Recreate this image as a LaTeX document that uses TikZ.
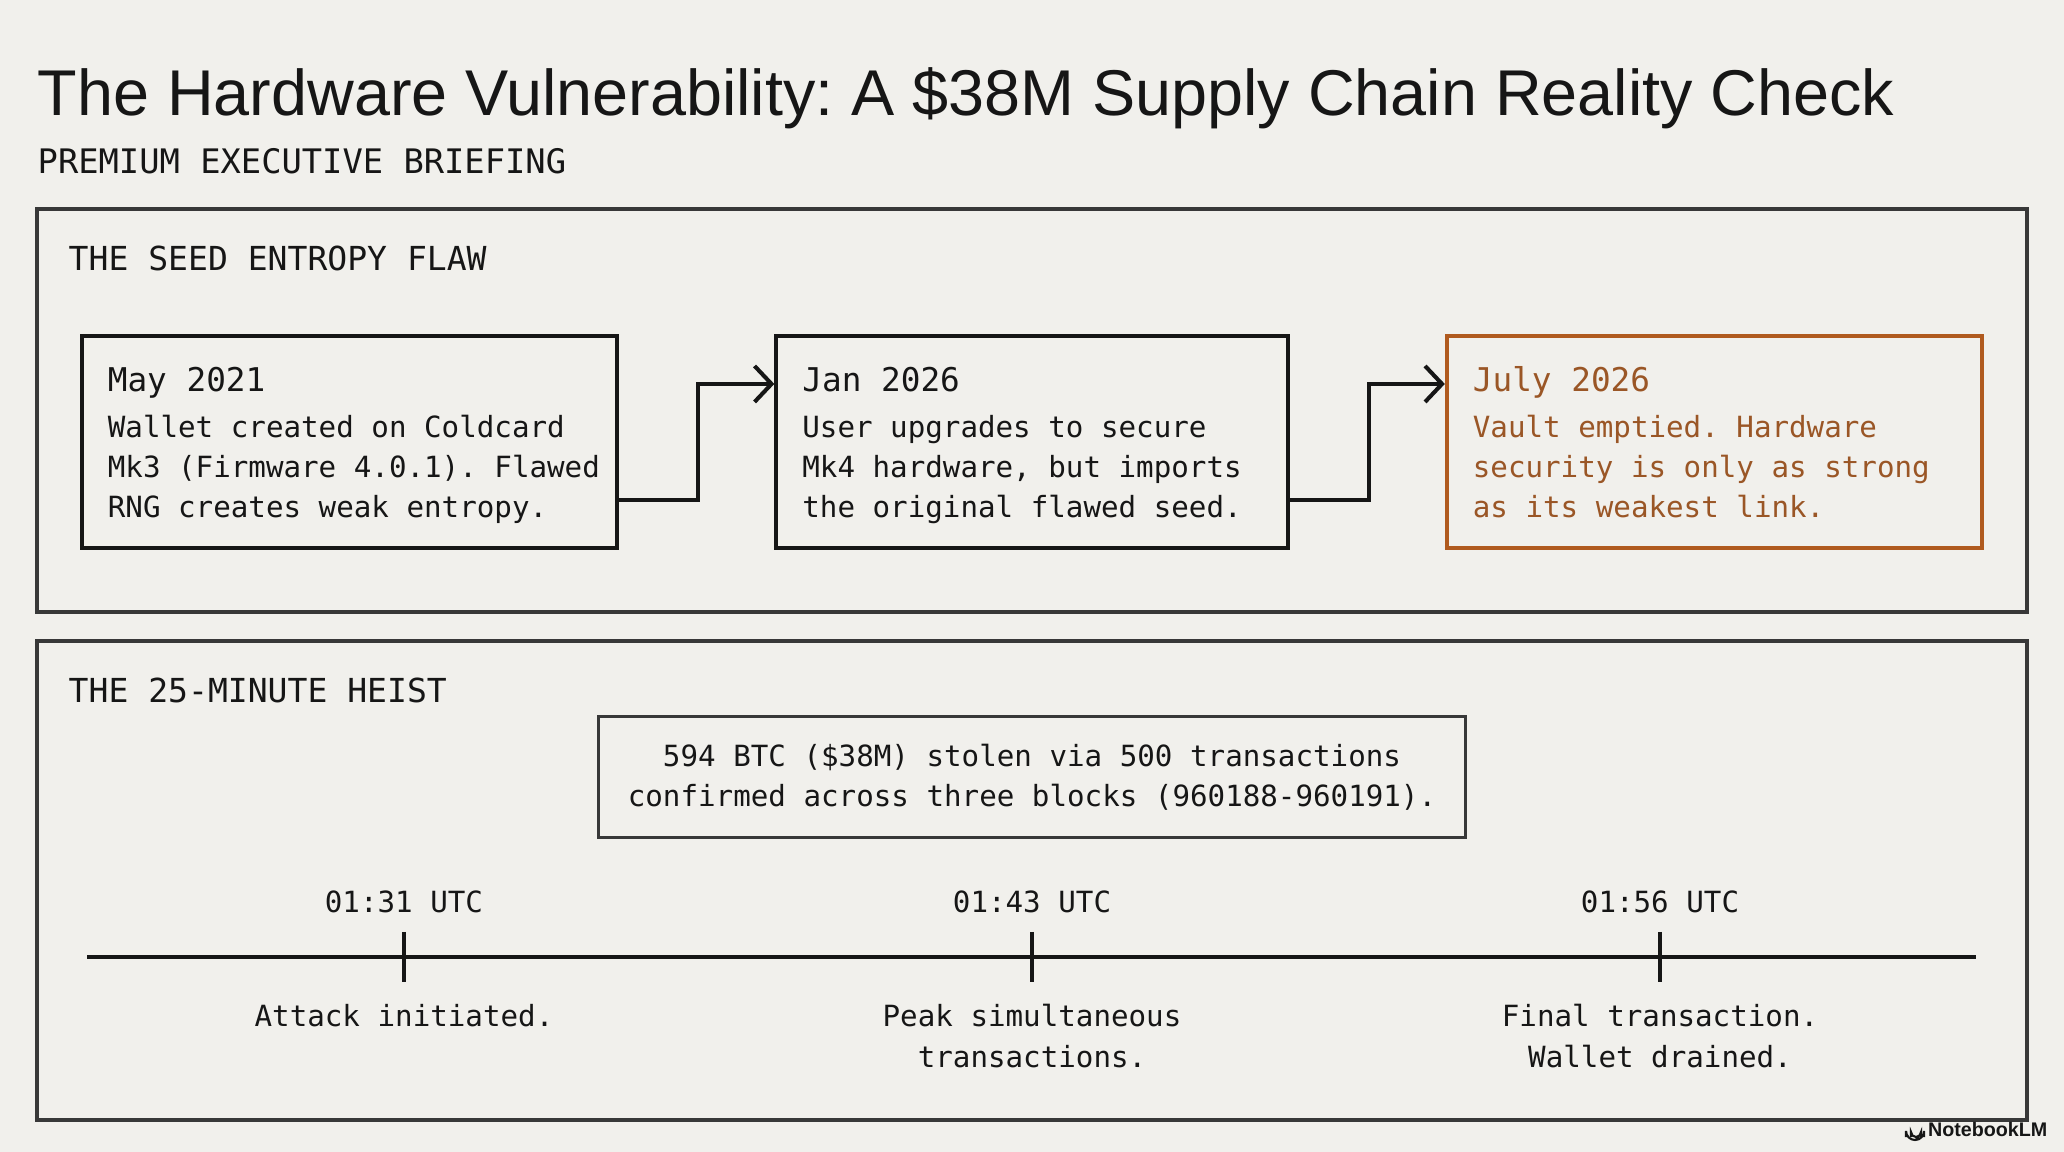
\documentclass[tikz,border=0pt]{standalone}
\usepackage{fontspec}
\setmainfont{Liberation Sans}
\setmonofont[WordSpace={1,0,0}]{DejaVu Sans Mono}
\usetikzlibrary{arrows.meta,positioning}
\definecolor{paper}{HTML}{F1F0EC}
\definecolor{rust}{HTML}{B05A1E}
\definecolor{rusttext}{HTML}{9A5626}
\definecolor{frame}{HTML}{383838}
\definecolor{ink}{HTML}{161616}
\frenchspacing

% heading line of an event box, padded to the box's text width
\newcommand{\when}[2][4.83cm]{\makebox[#1][l]{\rule{0pt}{9pt}\fontsize{9.3}{11.4}\selectfont #2}}
\newcommand{\snug}[2][4.83cm]{\makebox[#1][l]{#2}}

\tikzset{
  panel/.style={draw=frame,line width=0.95pt},
  panellabel/.style={anchor=base west,inner sep=0pt,text=ink,font=\ttfamily\fontsize{9.4}{11}\selectfont},
  event/.style={draw=ink,text=ink,line width=1.15pt,minimum height=2.12cm,inner xsep=0.26cm,
    align=left,font=\ttfamily\fontsize{8.3}{11.4}\selectfont},
  flow/.style={draw=ink,line width=1.15pt,-{Straight Barb[length=0.17cm,width=0.36cm]}},
  summary/.style={draw=frame,text=ink,line width=0.8pt,minimum width=8.66cm,minimum height=1.21cm,
    align=center,font=\ttfamily\fontsize{8.3}{11.4}\selectfont},
  axis/.style={draw=ink,line width=1.4pt},
  tickmark/.style={draw=ink,line width=0.9pt},
  stamp/.style={text=ink,align=center,font=\ttfamily\fontsize{8.3}{11.4}\selectfont},
}

\begin{document}
\begin{tikzpicture}[x=0.01cm,y=-0.01cm]
\useasboundingbox[fill=paper] (0,0) rectangle (2064,1152);

% heading
\node[anchor=base west,inner sep=0pt,text=ink,font=\fontsize{18.4}{22}\selectfont] (title) at (37,116)
  {The Hardware Vulnerability: A \$38M Supply Chain Reality Check};
\node[anchor=base west,inner sep=0pt,text=ink,font=\ttfamily\fontsize{9.6}{11}\selectfont] (subtitle) at (37,174)
  {PREMIUM EXECUTIVE BRIEFING};

% seed entropy panel
\draw[panel] (37,209) rectangle (2027,612);
\node[panellabel] (flaw) at (68,271) {THE SEED ENTROPY FLAW};

\node[event] (may) at (349.5,442)
  {\when{May 2021}\\[1.7pt]Wallet created on Coldcard\\\snug{Mk3 (Firmware 4.0.1). Flawed}\\RNG creates weak entropy.\vphantom{y}};
\node[event] (jan) at (1032,442)
  {\when[4.59cm]{Jan 2026}\\[1.7pt]User upgrades to secure\\Mk4 hardware, but imports\\the original flawed seed.\vphantom{y}};
\node[event,draw=rust,text=rusttext] (july) at (1714.5,442)
  {\when{July 2026}\\[1.7pt]Vault emptied. Hardware\\security is only as strong\\as its weakest link.\vphantom{y}};

\draw[flow] ([yshift=-0.58cm]may.east) -- ++(79,0) |- ([yshift=0.58cm]jan.west);
\draw[flow] ([yshift=-0.58cm]jan.east) -- ++(79,0) |- ([yshift=0.58cm]july.west);

% heist panel
\draw[panel] (37,641) rectangle (2027,1120);
\node[panellabel] (heist) at (68,702) {THE 25-MINUTE HEIST};

\node[summary] (loot) at (1032,777)
  {594 BTC (\$38M) stolen via 500 transactions\\confirmed across three blocks (960188-960191).};

\coordinate (start) at (87,957);
\coordinate (finish) at (1976,957);
\draw[axis] (start) -- (finish);

\coordinate (t1) at (404,957);
\coordinate (t2) at (1032,957);
\coordinate (t3) at (1660,957);
\draw[tickmark] ([yshift=0.25cm]t1) -- ([yshift=-0.25cm]t1);
\draw[tickmark] ([yshift=0.25cm]t2) -- ([yshift=-0.25cm]t2);
\draw[tickmark] ([yshift=0.25cm]t3) -- ([yshift=-0.25cm]t3);

\node[stamp] (time1) at (404,902) {01:31 UTC};
\node[stamp] (time2) at (1032,902) {01:43 UTC};
\node[stamp] (time3) at (1660,902) {01:56 UTC};
\node[stamp] (note1) at (404,1016) {Attack initiated.};
\node[stamp] (note2) at (1032,1036) {Peak simultaneous\\transactions.};
\node[stamp] (note3) at (1660,1036) {Final transaction.\\Wallet drained.};

% brand mark
\node[anchor=east,inner sep=0pt,text=ink,font=\bfseries\fontsize{5.6}{7}\selectfont] (brand) at (2048,1129) {NotebookLM};
\draw[ink,line width=0.6pt] (1906,1137) -- (1906,1131) arc (180:0:9) -- (1924,1137);
\draw[ink,line width=0.6pt] (1911,1137) -- (1911,1132) arc (180:0:5) -- (1921,1137);
\draw[ink,line width=0.6pt] (1915.5,1137) arc (180:0:1.5);
\end{tikzpicture}
\end{document}
